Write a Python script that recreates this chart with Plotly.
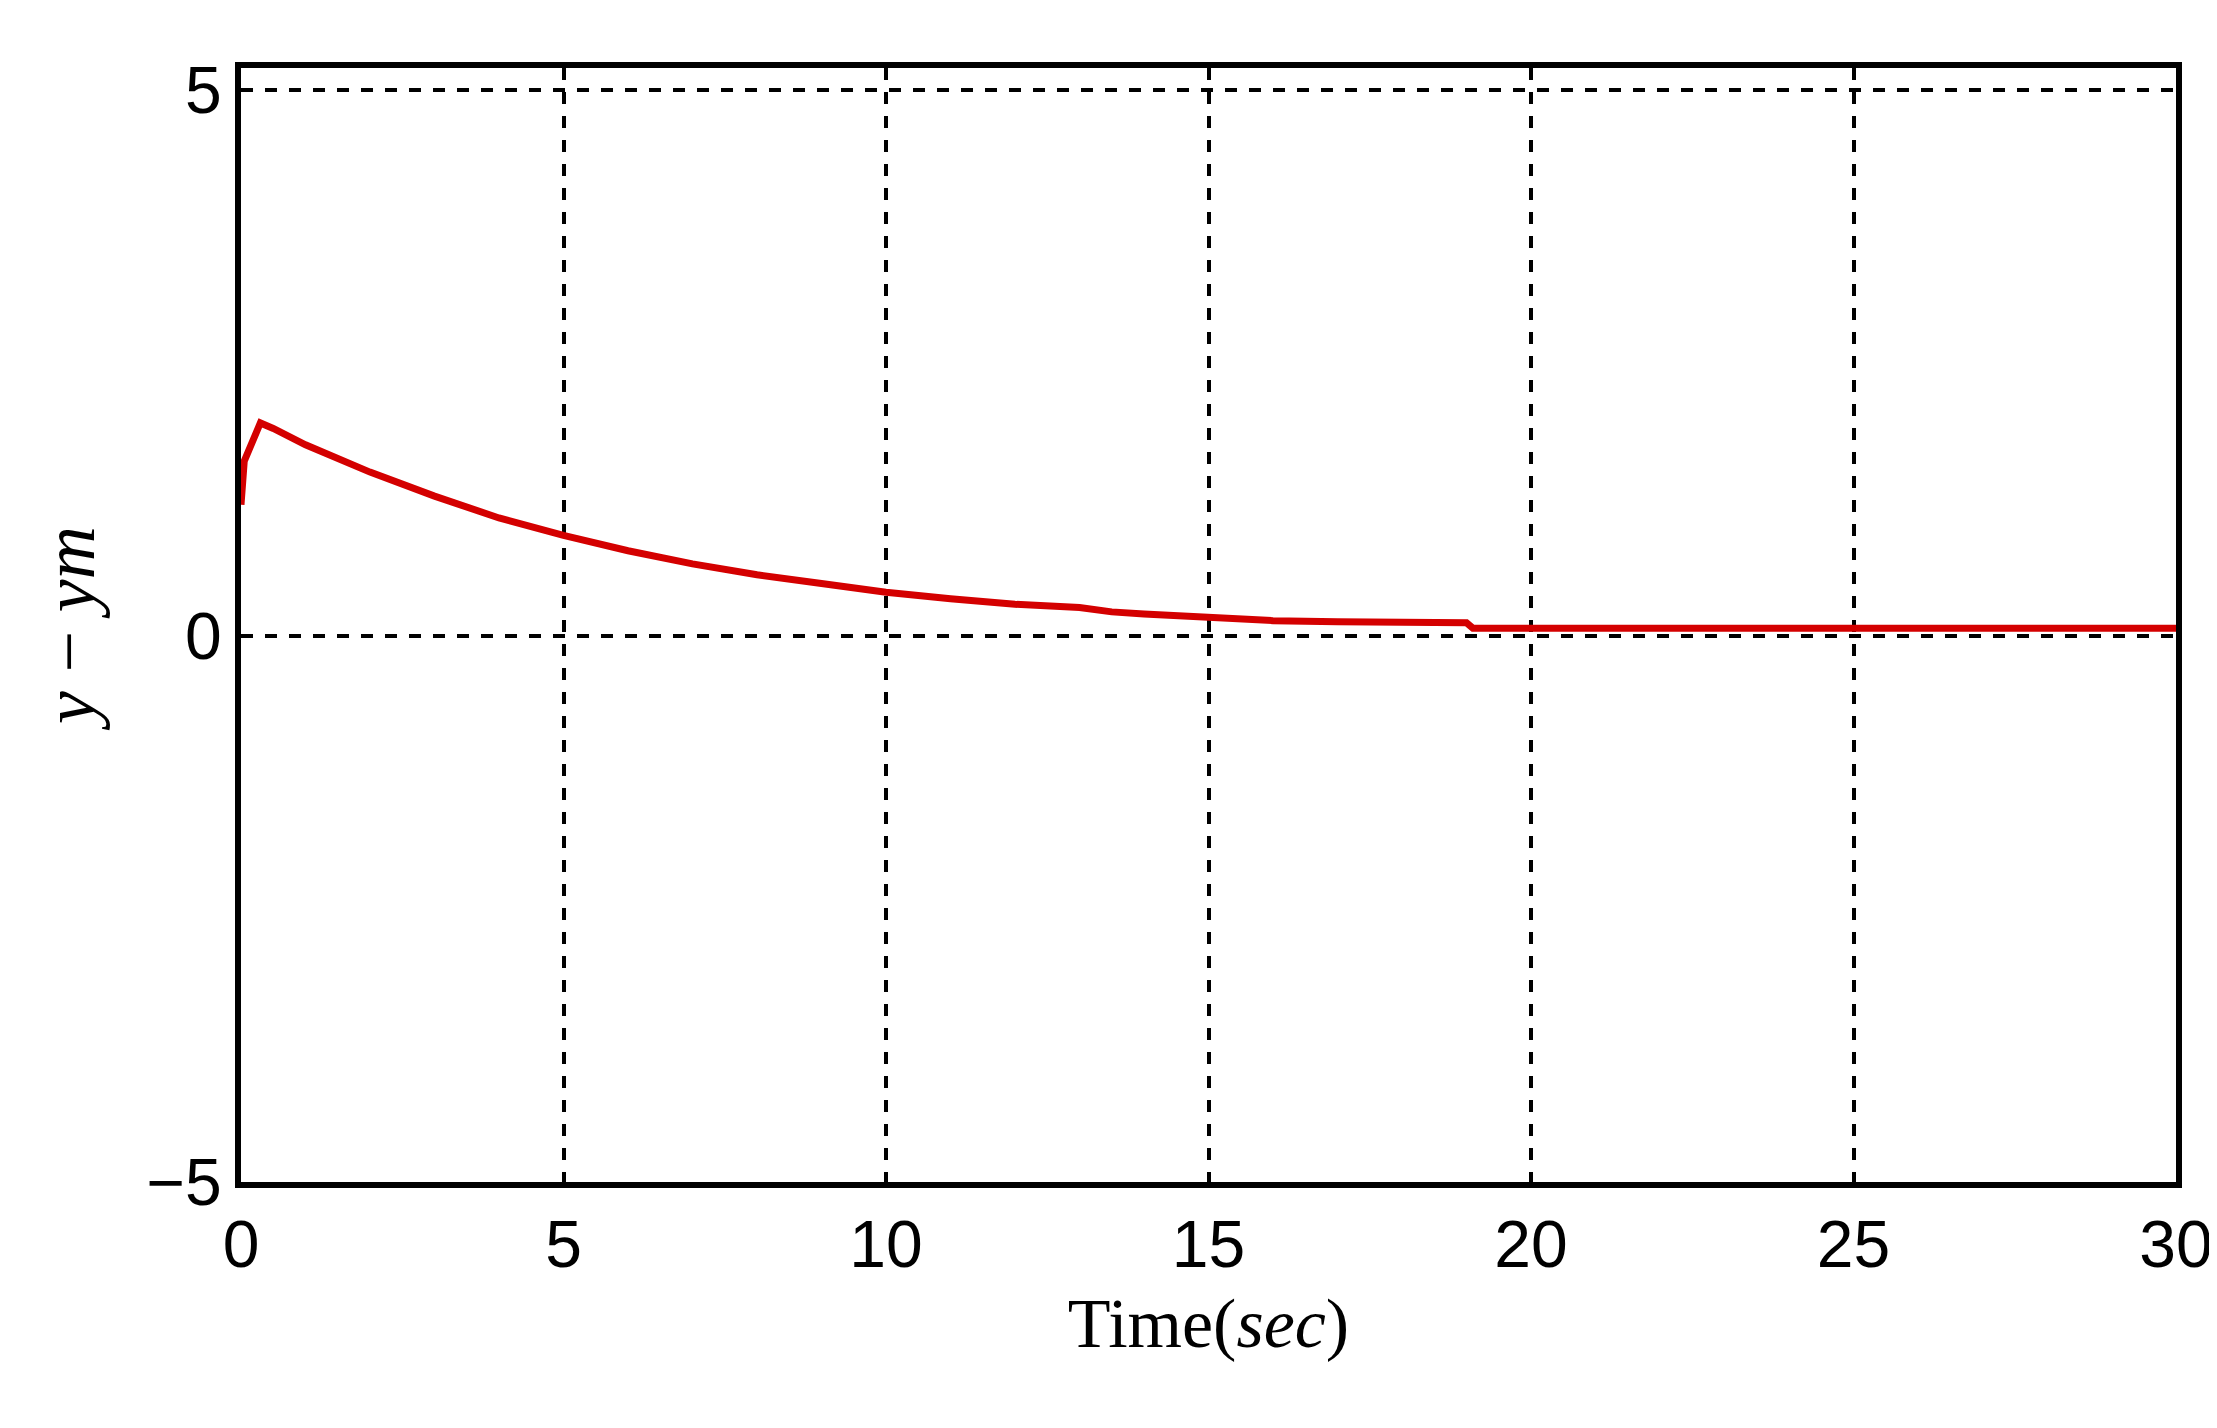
import plotly.graph_objects as go

t = [0, 0.05, 0.3, 0.5, 1, 1.5, 2, 3, 4, 5, 6, 7, 8, 9, 10, 11, 12, 13, 13.5, 14, 15, 16, 17, 18, 19, 19.1, 20, 22, 25, 28, 30]
err = [1.2, 1.6, 1.95, 1.9, 1.75, 1.62, 1.5, 1.28, 1.08, 0.92, 0.78, 0.66, 0.56, 0.48, 0.4, 0.34, 0.29, 0.26, 0.22, 0.2, 0.17, 0.14, 0.13, 0.13, 0.12, 0.07, 0.07, 0.07, 0.07, 0.07, 0.07]

fig = go.Figure()
fig.add_trace(go.Scatter(x=t, y=err, mode='lines', line=dict(color='#d40000', width=7),
                         showlegend=False))

axis_common = dict(showline=True, linecolor='black', linewidth=6, mirror=True,
                   showgrid=True, gridcolor='black', gridwidth=4, griddash='dash',
                   zeroline=False, ticks='', tickfont=dict(family='Liberation Sans', size=66, color='black'))
fig.update_xaxes(range=[0, 30], tickvals=[0, 5, 10, 15, 20, 25, 30],
                 title=dict(text='Time(<i>sec</i>)', font=dict(family='Liberation Serif', size=70, color='black'), standoff=20),
                 **axis_common)
fig.update_yaxes(range=[-5, 5.2], tickvals=[-5, 0, 5],
                 title=dict(text='<i>y</i> − <i>ym</i>', font=dict(family='Liberation Serif', size=74, color='black'), standoff=30),
                 **axis_common)
fig.update_layout(width=2217, height=1428, plot_bgcolor='white', paper_bgcolor='white',
                  margin=dict(l=233, r=42, t=60, b=254))
fig.write_html("out.html")
